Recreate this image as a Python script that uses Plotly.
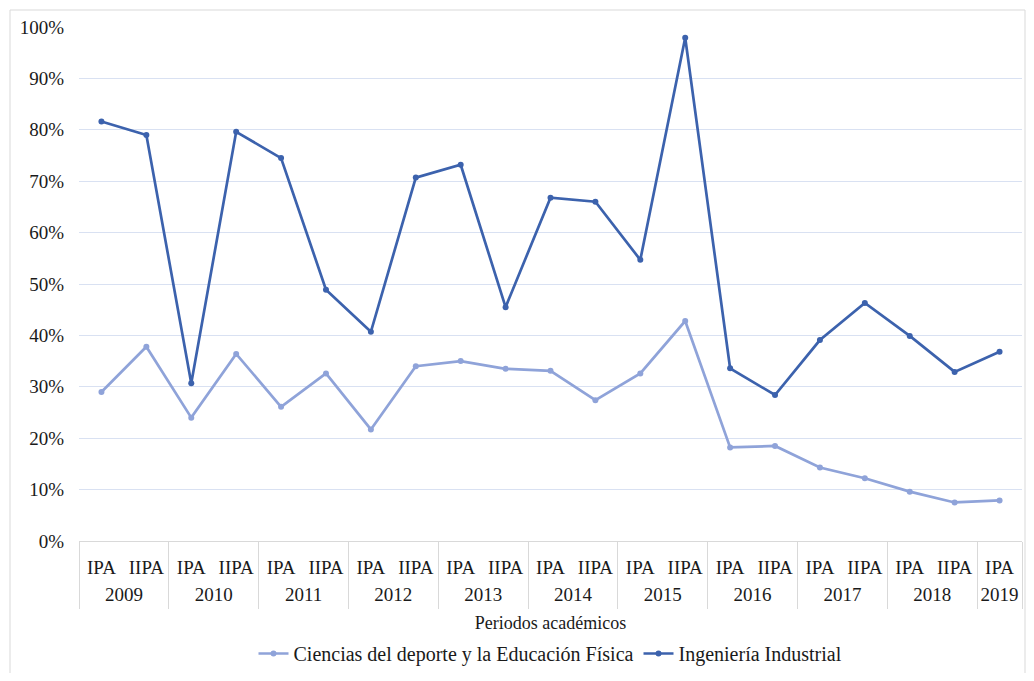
import plotly.graph_objects as go

years = ["2009", "2009", "2010", "2010", "2011", "2011", "2012", "2012", "2013", "2013",
         "2014", "2014", "2015", "2015", "2016", "2016", "2017", "2017", "2018", "2018", "2019"]
periods = ["IPA", "IIPA"] * 10 + ["IPA"]

ciencias = [0.290, 0.378, 0.240, 0.364, 0.261, 0.326, 0.217, 0.340, 0.350, 0.335,
            0.331, 0.274, 0.326, 0.428, 0.182, 0.185, 0.143, 0.122, 0.096, 0.075, 0.079]
ingenieria = [0.816, 0.790, 0.307, 0.796, 0.745, 0.489, 0.407, 0.707, 0.732, 0.455,
              0.668, 0.660, 0.547, 0.979, 0.336, 0.284, 0.391, 0.463, 0.399, 0.329, 0.368]

name_c = "Ciencias del deporte y la Educación Física"
name_i = "Ingeniería Industrial"

font_family = "Times New Roman"

# positions derived from the category lists
idx = list(range(len(periods)))
year_labels = []
year_centers = []
boundaries = [-0.5]
for i, y in enumerate(years):
    if i == 0 or y != years[i - 1]:
        if i > 0:
            boundaries.append(i - 0.5)
        members = [j for j, v in enumerate(years) if v == y]
        year_labels.append(y)
        year_centers.append(sum(members) / len(members))
boundaries.append(len(years) - 0.5)
xrange = [-0.5, len(periods) - 0.5]

fig = go.Figure()
fig.add_trace(go.Scatter(
    x=idx, y=ciencias, name=name_c, mode="lines+markers",
    line=dict(color="#8FA3D9", width=2.7), marker=dict(size=6, color="#8FA3D9"),
))
fig.add_trace(go.Scatter(
    x=idx, y=ingenieria, name=name_i, mode="lines+markers",
    line=dict(color="#3C62AD", width=2.7), marker=dict(size=6, color="#3C62AD"),
))
# invisible helper traces so the year and divider axes get drawn
fig.add_trace(go.Scatter(
    x=year_centers, y=[0] * len(year_centers), xaxis="x2", mode="markers",
    marker=dict(opacity=0), showlegend=False, hoverinfo="skip",
))
fig.add_trace(go.Scatter(
    x=boundaries, y=[0] * len(boundaries), xaxis="x3", mode="markers",
    marker=dict(opacity=0), showlegend=False, hoverinfo="skip",
))

fig.update_layout(
    width=1018, height=665,
    margin=dict(l=71, r=4, t=19, b=132),
    paper_bgcolor="white", plot_bgcolor="white",
    font=dict(family=font_family, size=19, color="#1a1a1a"),
    showlegend=True,
    legend=dict(orientation="h", x=0.5, xanchor="center", yref="container", y=0, yanchor="bottom",
                font=dict(family=font_family, size=20), itemwidth=30),
    shapes=[dict(type="rect", xref="paper", yref="paper",
                 x0=-69/943, x1=946/943, y0=-160/514, y1=1 + 17/514,
                 line=dict(color="#D9D9D9", width=1), fillcolor="rgba(0,0,0,0)", layer="below")],
    xaxis=dict(
        range=xrange, tickmode="array", tickvals=idx, ticktext=periods,
        showgrid=False, zeroline=False, showline=True, linecolor="#D9D9D9", linewidth=1,
        ticks="", ticklabelstandoff=9, automargin=False,
        tickfont=dict(family=font_family, size=19),
    ),
    xaxis2=dict(
        overlaying="x", anchor="y", side="bottom",
        range=xrange, tickmode="array", tickvals=year_centers, ticktext=year_labels,
        showgrid=False, zeroline=False, showline=False,
        ticks="", ticklabelstandoff=40, automargin=False,
        tickfont=dict(family=font_family, size=19),
        title=dict(text="Periodos académicos", font=dict(family=font_family, size=18), standoff=12),
    ),
    xaxis3=dict(
        overlaying="x", anchor="y", side="bottom",
        range=xrange, tickmode="array", tickvals=boundaries, showticklabels=False,
        showgrid=False, zeroline=False, showline=False,
        ticks="outside", ticklen=67, tickwidth=1, tickcolor="#D9D9D9", automargin=False,
    ),
    yaxis=dict(
        range=[0, 1], tickformat=".0%", dtick=0.1, automargin=False,
        showgrid=True, gridcolor="#D9E1F2", gridwidth=1,
        zeroline=False, showline=False, ticks="", ticklabelstandoff=14,
        tickfont=dict(family=font_family, size=19),
    ),
)

fig.write_html("out.html")
